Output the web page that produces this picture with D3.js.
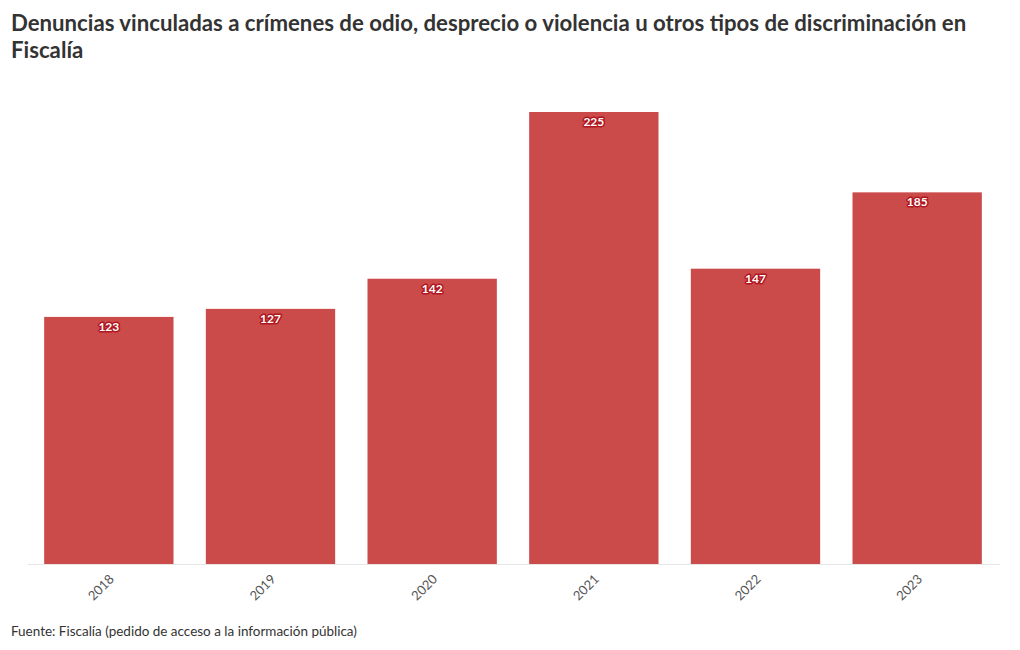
<!DOCTYPE html>
<html><head><meta charset="utf-8">
<script src="https://cdn.jsdelivr.net/npm/d3@7"></script>
<style>
body{margin:0;background:#fff;}
svg{font-family:"Source Sans Pro","Lato","Noto Sans",sans-serif;}
</style></head>
<body><svg id="c" width="1020" height="650"></svg>
<script>
const categories = ["2018","2019","2020","2021","2022","2023"];
const values = [123,127,142,225,147,185];
const titleLines = ["Denuncias vinculadas a crímenes de odio, desprecio o violencia u otros tipos de discriminación en","Fiscalía"];
const sourceText = "Fuente: Fiscalía (pedido de acceso a la información pública)";

const svg = d3.select("#c");
const x = d3.scaleBand().domain(categories).range([28,998]).paddingInner(0.2).paddingOuter(0.1);
const y = d3.scaleLinear().domain([0,225]).range([564,112]);

// title
const t = svg.append("g");
titleLines.forEach((l,i)=>{
  t.append("text").attr("x",11).attr("y",31+i*27).text(l)
   .attr("font-size",22).attr("font-weight",700).attr("fill","#333");
});
const tl = t.select("text").node();
const w = tl.getComputedTextLength();
if (w>0){ const s=956/w; t.selectAll("text").attr("font-size",22*s); }

// axis line
svg.append("line").attr("x1",28).attr("x2",1000).attr("y1",564.5).attr("y2",564.5).attr("stroke","#e6e6e6");

// bars
svg.append("g").selectAll("rect").data(values).join("rect")
  .attr("x",(d,i)=>x(categories[i])).attr("width",x.bandwidth())
  .attr("y",d=>y(d)).attr("height",d=>y(0)-y(d)).attr("fill","#cb4a4a");

// labels
const lg = svg.append("g").attr("font-size",12).attr("font-weight",700).attr("text-anchor","middle");
lg.selectAll("text.h").data(values).join("text")
  .attr("x",(d,i)=>x(categories[i])+x.bandwidth()/2).attr("y",d=>y(d)+14)
  .attr("stroke","#b0161e").attr("stroke-width",3).attr("stroke-linejoin","round").attr("fill","#b0161e").text(d=>d);
lg.selectAll("text.f").data(values).join("text")
  .attr("x",(d,i)=>x(categories[i])+x.bandwidth()/2).attr("y",d=>y(d)+14)
  .attr("fill","#fff").text(d=>d);

// x axis
const ax = svg.append("g").attr("transform","translate(0,564)")
  .call(d3.axisBottom(x).tickSize(0).tickPadding(0));
ax.select(".domain").remove();
ax.selectAll("text").attr("font-size",13).attr("fill","#555")
  .attr("font-family","\"Source Sans Pro\",\"Lato\",\"Noto Sans\",sans-serif")
  .attr("text-anchor","end").attr("dy",0)
  .attr("transform","translate(6,16) rotate(-45)");

const src = svg.append("text").attr("x",11).attr("y",636).attr("font-size",13).attr("fill","#333").text(sourceText);
const sw = src.node().getComputedTextLength();
if (sw>0) src.attr("font-size",13*346/sw);
</script></body></html>
